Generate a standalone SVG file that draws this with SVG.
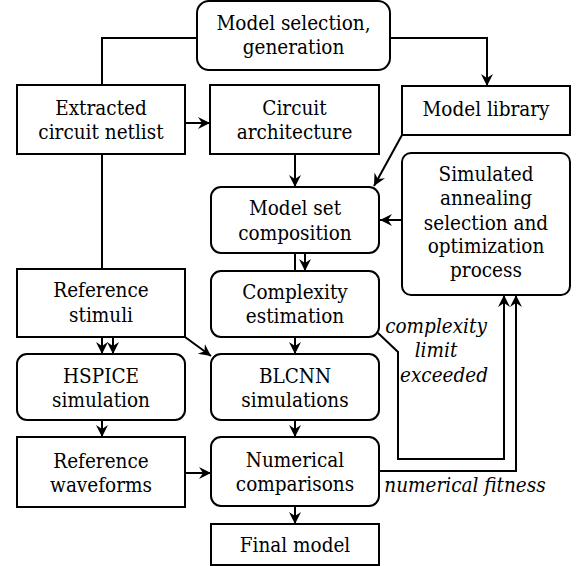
<svg xmlns="http://www.w3.org/2000/svg" width="587" height="566" viewBox="0 0 587 566">
<style>
.box{fill:#fff;stroke:#000;stroke-width:2}
text{font-family:'DejaVu Serif Condensed','DejaVu Serif',serif;font-stretch:condensed;font-size:20.5px;text-anchor:middle;fill:#000}
.i{font-style:italic}
.c{fill:none;stroke:#000;stroke-width:2}
</style>
<defs>
<marker id="a" markerUnits="userSpaceOnUse" markerWidth="14" markerHeight="14" refX="12" refY="6" orient="auto" viewBox="0 0 14 12">
<path d="M0,0 L12,6 L0,12 L4,6 z" fill="#000"/>
</marker>
</defs>
<g id="connectors">
<path class="c" d="M197,38 H102 V85"/>
<path class="c" d="M390,38 H487 V86" marker-end="url(#a)"/>
<path class="c" d="M185,123 H210" marker-end="url(#a)"/>
<path class="c" d="M102,154 V269"/>
<path class="c" d="M295,154 V187" marker-end="url(#a)"/>
<path class="c" d="M402,135 L374,186" marker-end="url(#a)"/>
<path class="c" d="M402,220 H380" marker-end="url(#a)"/>
<path class="c" d="M295,253 V272"/>
<path class="c" d="M305,253 V271" marker-end="url(#a)"/>
<path class="c" d="M295,337 V354" marker-end="url(#a)"/>
<path class="c" d="M102,337 V354" marker-end="url(#a)"/>
<path class="c" d="M113,337 V354" marker-end="url(#a)"/>
<path class="c" d="M185,337 L211,356" marker-end="url(#a)"/>
<path class="c" d="M102,420 V437" marker-end="url(#a)"/>
<path class="c" d="M295,420 V437" marker-end="url(#a)"/>
<path class="c" d="M185,473 H211" marker-end="url(#a)"/>
<path class="c" d="M295,506 V524" marker-end="url(#a)"/>
<path class="c" d="M378,333 L398,352 V459 H504 V295" marker-end="url(#a)"/>
<path class="c" d="M379,471 H516 V295" marker-end="url(#a)"/>
</g>
<g id="model-selection"><rect class="box" x="197" y="1" width="193" height="69" rx="12"/>
<text x="293.5" y="30">Model selection,</text><text x="293.5" y="53.5">generation</text></g>
<g id="extracted-netlist"><rect class="box" x="17" y="85" width="168" height="69"/>
<text x="101" y="115">Extracted</text><text x="101" y="139">circuit netlist</text></g>
<g id="circuit-architecture"><rect class="box" x="210" y="85" width="169" height="69"/>
<text x="294.5" y="115">Circuit</text><text x="294.5" y="139">architecture</text></g>
<g id="model-library"><rect class="box" x="402" y="86" width="168" height="49"/>
<text x="486" y="116">Model library</text></g>
<g id="model-set"><rect class="box" x="211" y="187" width="168" height="66" rx="10"/>
<text x="295" y="215">Model set</text><text x="295" y="240">composition</text></g>
<g id="simulated-annealing"><rect class="box" x="402" y="153" width="168" height="142" rx="9"/>
<text x="486" y="181">Simulated</text><text x="486" y="205">annealing</text><text x="486" y="230">selection and</text><text x="486" y="253">optimization</text><text x="486" y="277">process</text></g>
<g id="reference-stimuli"><rect class="box" x="17" y="269" width="168" height="68"/>
<text x="101" y="297">Reference</text><text x="101" y="322">stimuli</text></g>
<g id="complexity-estimation"><rect class="box" x="211" y="271" width="168" height="66" rx="10"/>
<text x="295" y="299">Complexity</text><text x="295" y="323">estimation</text></g>
<g id="hspice"><rect class="box" x="17" y="354" width="168" height="66" rx="10"/>
<text x="101" y="383">HSPICE</text><text x="101" y="407">simulation</text></g>
<g id="blcnn"><rect class="box" x="211" y="354" width="168" height="66" rx="10"/>
<text x="295" y="383">BLCNN</text><text x="295" y="407">simulations</text></g>
<g id="reference-waveforms"><rect class="box" x="17" y="437" width="168" height="70"/>
<text x="101" y="468">Reference</text><text x="101" y="492">waveforms</text></g>
<g id="numerical-comparisons"><rect class="box" x="211" y="437" width="168" height="69" rx="10"/>
<text x="295" y="467">Numerical</text><text x="295" y="491">comparisons</text></g>
<g id="final-model"><rect class="box" x="211" y="524" width="168" height="41"/>
<text x="295" y="552">Final model</text></g>
<g id="labels">
<text class="i" x="436" y="333">complexity</text>
<text class="i" x="436" y="357">limit</text>
<text class="i" x="444" y="382">exceeded</text>
<text class="i" x="465" y="492">numerical fitness</text>
</g>
</svg>
